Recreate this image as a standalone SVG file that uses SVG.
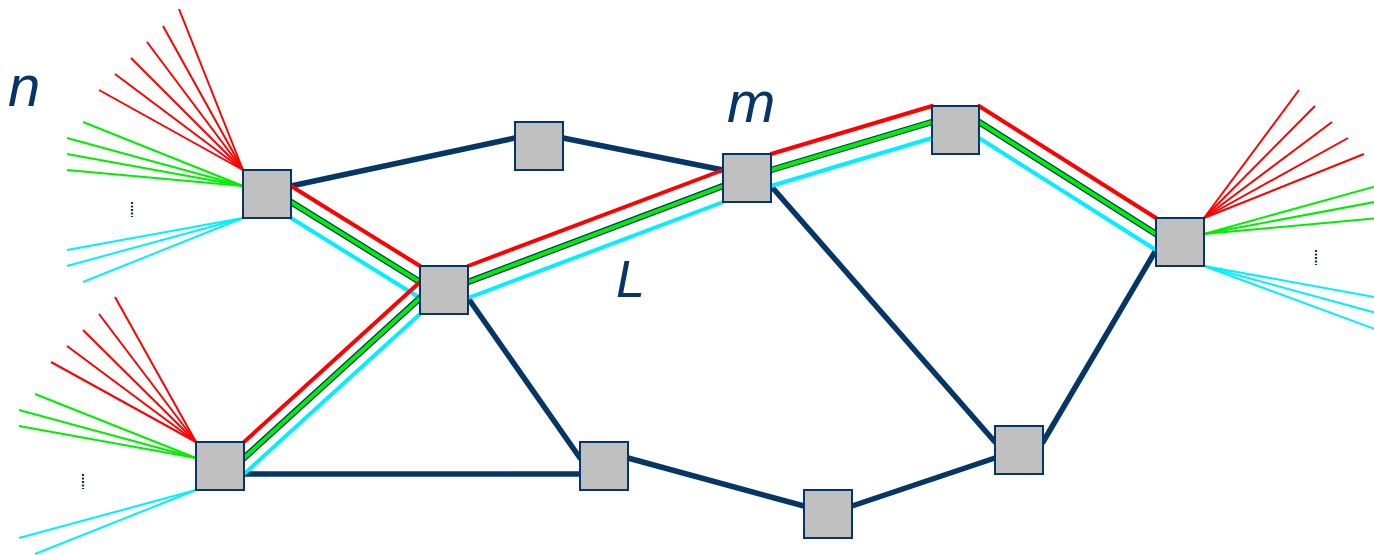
<svg xmlns="http://www.w3.org/2000/svg" width="1374" height="555" viewBox="0 0 1374 555">
<style>
.node{fill:#c0c0c0;stroke:#053666;stroke-width:2}
.nv{stroke:#053666;stroke-width:5.5;stroke-linecap:round;fill:none}
.r{stroke:#ff0000;stroke-width:4;stroke-linecap:round}
.c{stroke:#00f0ff;stroke-width:4;stroke-linecap:round}
.go{stroke:#053666;stroke-width:6.5;stroke-linecap:round}
.g{stroke:#00ee00;stroke-width:4;stroke-linecap:round}
.fr{stroke:#ff0000;stroke-width:2}
.fg{stroke:#00ee00;stroke-width:2}
.fc{stroke:#00f0ff;stroke-width:2}
.dots{stroke:#053666;stroke-width:2.2;stroke-dasharray:2 1.5}
.lbl{font-family:"Liberation Sans",Arial,sans-serif;font-style:italic;fill:#053666}
</style>
<rect width="1374" height="555" fill="#ffffff"/>
<g id="fans">
  <g class="fr">
    <line x1="243" y1="170" x2="179" y2="9"/>
    <line x1="243" y1="170" x2="163" y2="26"/>
    <line x1="243" y1="170" x2="147" y2="42"/>
    <line x1="243" y1="170" x2="131" y2="58"/>
    <line x1="243" y1="170" x2="115" y2="74"/>
    <line x1="243" y1="170" x2="99" y2="90"/>
  </g>
  <g class="fg">
    <line x1="243" y1="186" x2="83" y2="122"/>
    <line x1="243" y1="186" x2="67" y2="138"/>
    <line x1="243" y1="186" x2="67" y2="154"/>
    <line x1="243" y1="186" x2="67" y2="170"/>
  </g>
  <g class="fc">
    <line x1="243" y1="218" x2="67" y2="250"/>
    <line x1="243" y1="218" x2="67" y2="266"/>
    <line x1="243" y1="218" x2="83" y2="282"/>
  </g>
  <line class="dots" x1="132" y1="202" x2="132" y2="217"/>
  <g class="fr">
    <line x1="196" y1="442" x2="115" y2="297"/>
    <line x1="196" y1="442" x2="99" y2="314"/>
    <line x1="196" y1="442" x2="83" y2="330"/>
    <line x1="196" y1="442" x2="67" y2="346"/>
    <line x1="196" y1="442" x2="51" y2="362"/>
  </g>
  <g class="fg">
    <line x1="196" y1="458" x2="35" y2="394"/>
    <line x1="196" y1="458" x2="19" y2="410"/>
    <line x1="196" y1="458" x2="19" y2="426"/>
  </g>
  <g class="fc">
    <line x1="196" y1="490" x2="19" y2="538"/>
    <line x1="196" y1="490" x2="35" y2="554"/>
  </g>
  <line class="dots" x1="83" y1="474" x2="83" y2="489"/>
  <g class="fr">
    <line x1="1204" y1="218" x2="1299" y2="90"/>
    <line x1="1204" y1="218" x2="1315" y2="106"/>
    <line x1="1204" y1="218" x2="1332" y2="122"/>
    <line x1="1204" y1="218" x2="1348" y2="138"/>
    <line x1="1204" y1="218" x2="1364" y2="154"/>
  </g>
  <g class="fg">
    <line x1="1204" y1="234" x2="1380" y2="185"/>
    <line x1="1204" y1="234" x2="1380" y2="201"/>
    <line x1="1204" y1="234" x2="1380" y2="218"/>
  </g>
  <g class="fc">
    <line x1="1204" y1="266" x2="1380" y2="298"/>
    <line x1="1204" y1="266" x2="1380" y2="314"/>
    <line x1="1204" y1="266" x2="1380" y2="331"/>
  </g>
  <line class="dots" x1="1316" y1="250" x2="1316" y2="265"/>
</g>
<g id="connectors">
  <line class="nv" x1="291" y1="186" x2="515" y2="138"/>
  <line class="nv" x1="563" y1="138" x2="723" y2="170"/>
  <line class="nv" x1="771" y1="186" x2="995" y2="442"/>
  <line class="nv" x1="468" y1="298" x2="580" y2="458"/>
  <line class="nv" x1="244" y1="474" x2="580" y2="474"/>
  <line class="nv" x1="628" y1="458" x2="804" y2="506"/>
  <line class="nv" x1="852" y1="506" x2="995" y2="458"/>
  <line class="nv" x1="1043" y1="442" x2="1156" y2="250"/>
  <line class="r" x1="291" y1="186" x2="420" y2="266"/>
  <line class="go" x1="291" y1="202" x2="420" y2="282"/>
  <line class="g" x1="291" y1="202" x2="420" y2="282"/>
  <line class="c" x1="291" y1="218" x2="420" y2="298"/>
  <line class="r" x1="244" y1="442" x2="420" y2="282"/>
  <line class="go" x1="244" y1="458" x2="420" y2="298"/>
  <line class="g" x1="244" y1="458" x2="420" y2="298"/>
  <line class="c" x1="244" y1="474" x2="420" y2="314"/>
  <line class="r" x1="468" y1="266" x2="723" y2="170"/>
  <line class="go" x1="468" y1="282" x2="723" y2="186"/>
  <line class="g" x1="468" y1="282" x2="723" y2="186"/>
  <line class="c" x1="468" y1="298" x2="723" y2="202"/>
  <line class="r" x1="771" y1="154" x2="932" y2="106"/>
  <line class="go" x1="771" y1="170" x2="932" y2="122"/>
  <line class="g" x1="771" y1="170" x2="932" y2="122"/>
  <line class="c" x1="771" y1="186" x2="932" y2="138"/>
  <line class="r" x1="979" y1="106" x2="1156" y2="218"/>
  <line class="go" x1="979" y1="122" x2="1156" y2="234"/>
  <line class="g" x1="979" y1="122" x2="1156" y2="234"/>
  <line class="c" x1="979" y1="138" x2="1156" y2="250"/>
</g>
<g id="nodeA"><rect class="node" x="243" y="170" width="48" height="48"/></g>
<g id="nodeB"><rect class="node" x="420" y="266" width="48" height="48"/></g>
<g id="nodeC"><rect class="node" x="515" y="122" width="48" height="48"/></g>
<g id="nodeD"><rect class="node" x="723" y="154" width="48" height="48"/></g>
<g id="nodeE"><rect class="node" x="932" y="106" width="47" height="48"/></g>
<g id="nodeF"><rect class="node" x="1156" y="218" width="48" height="48"/></g>
<g id="nodeG"><rect class="node" x="196" y="442" width="48" height="48"/></g>
<g id="nodeH"><rect class="node" x="580" y="442" width="48" height="48"/></g>
<g id="nodeI"><rect class="node" x="804" y="490" width="48" height="48"/></g>
<g id="nodeJ"><rect class="node" x="995" y="426" width="48" height="48"/></g>
<g id="labels">
  <text class="lbl" x="8" y="106" font-size="58">n</text>
  <text class="lbl" x="727" y="122" font-size="58">m</text>
  <text class="lbl" x="616" y="297" font-size="52">L</text>
</g>
</svg>
